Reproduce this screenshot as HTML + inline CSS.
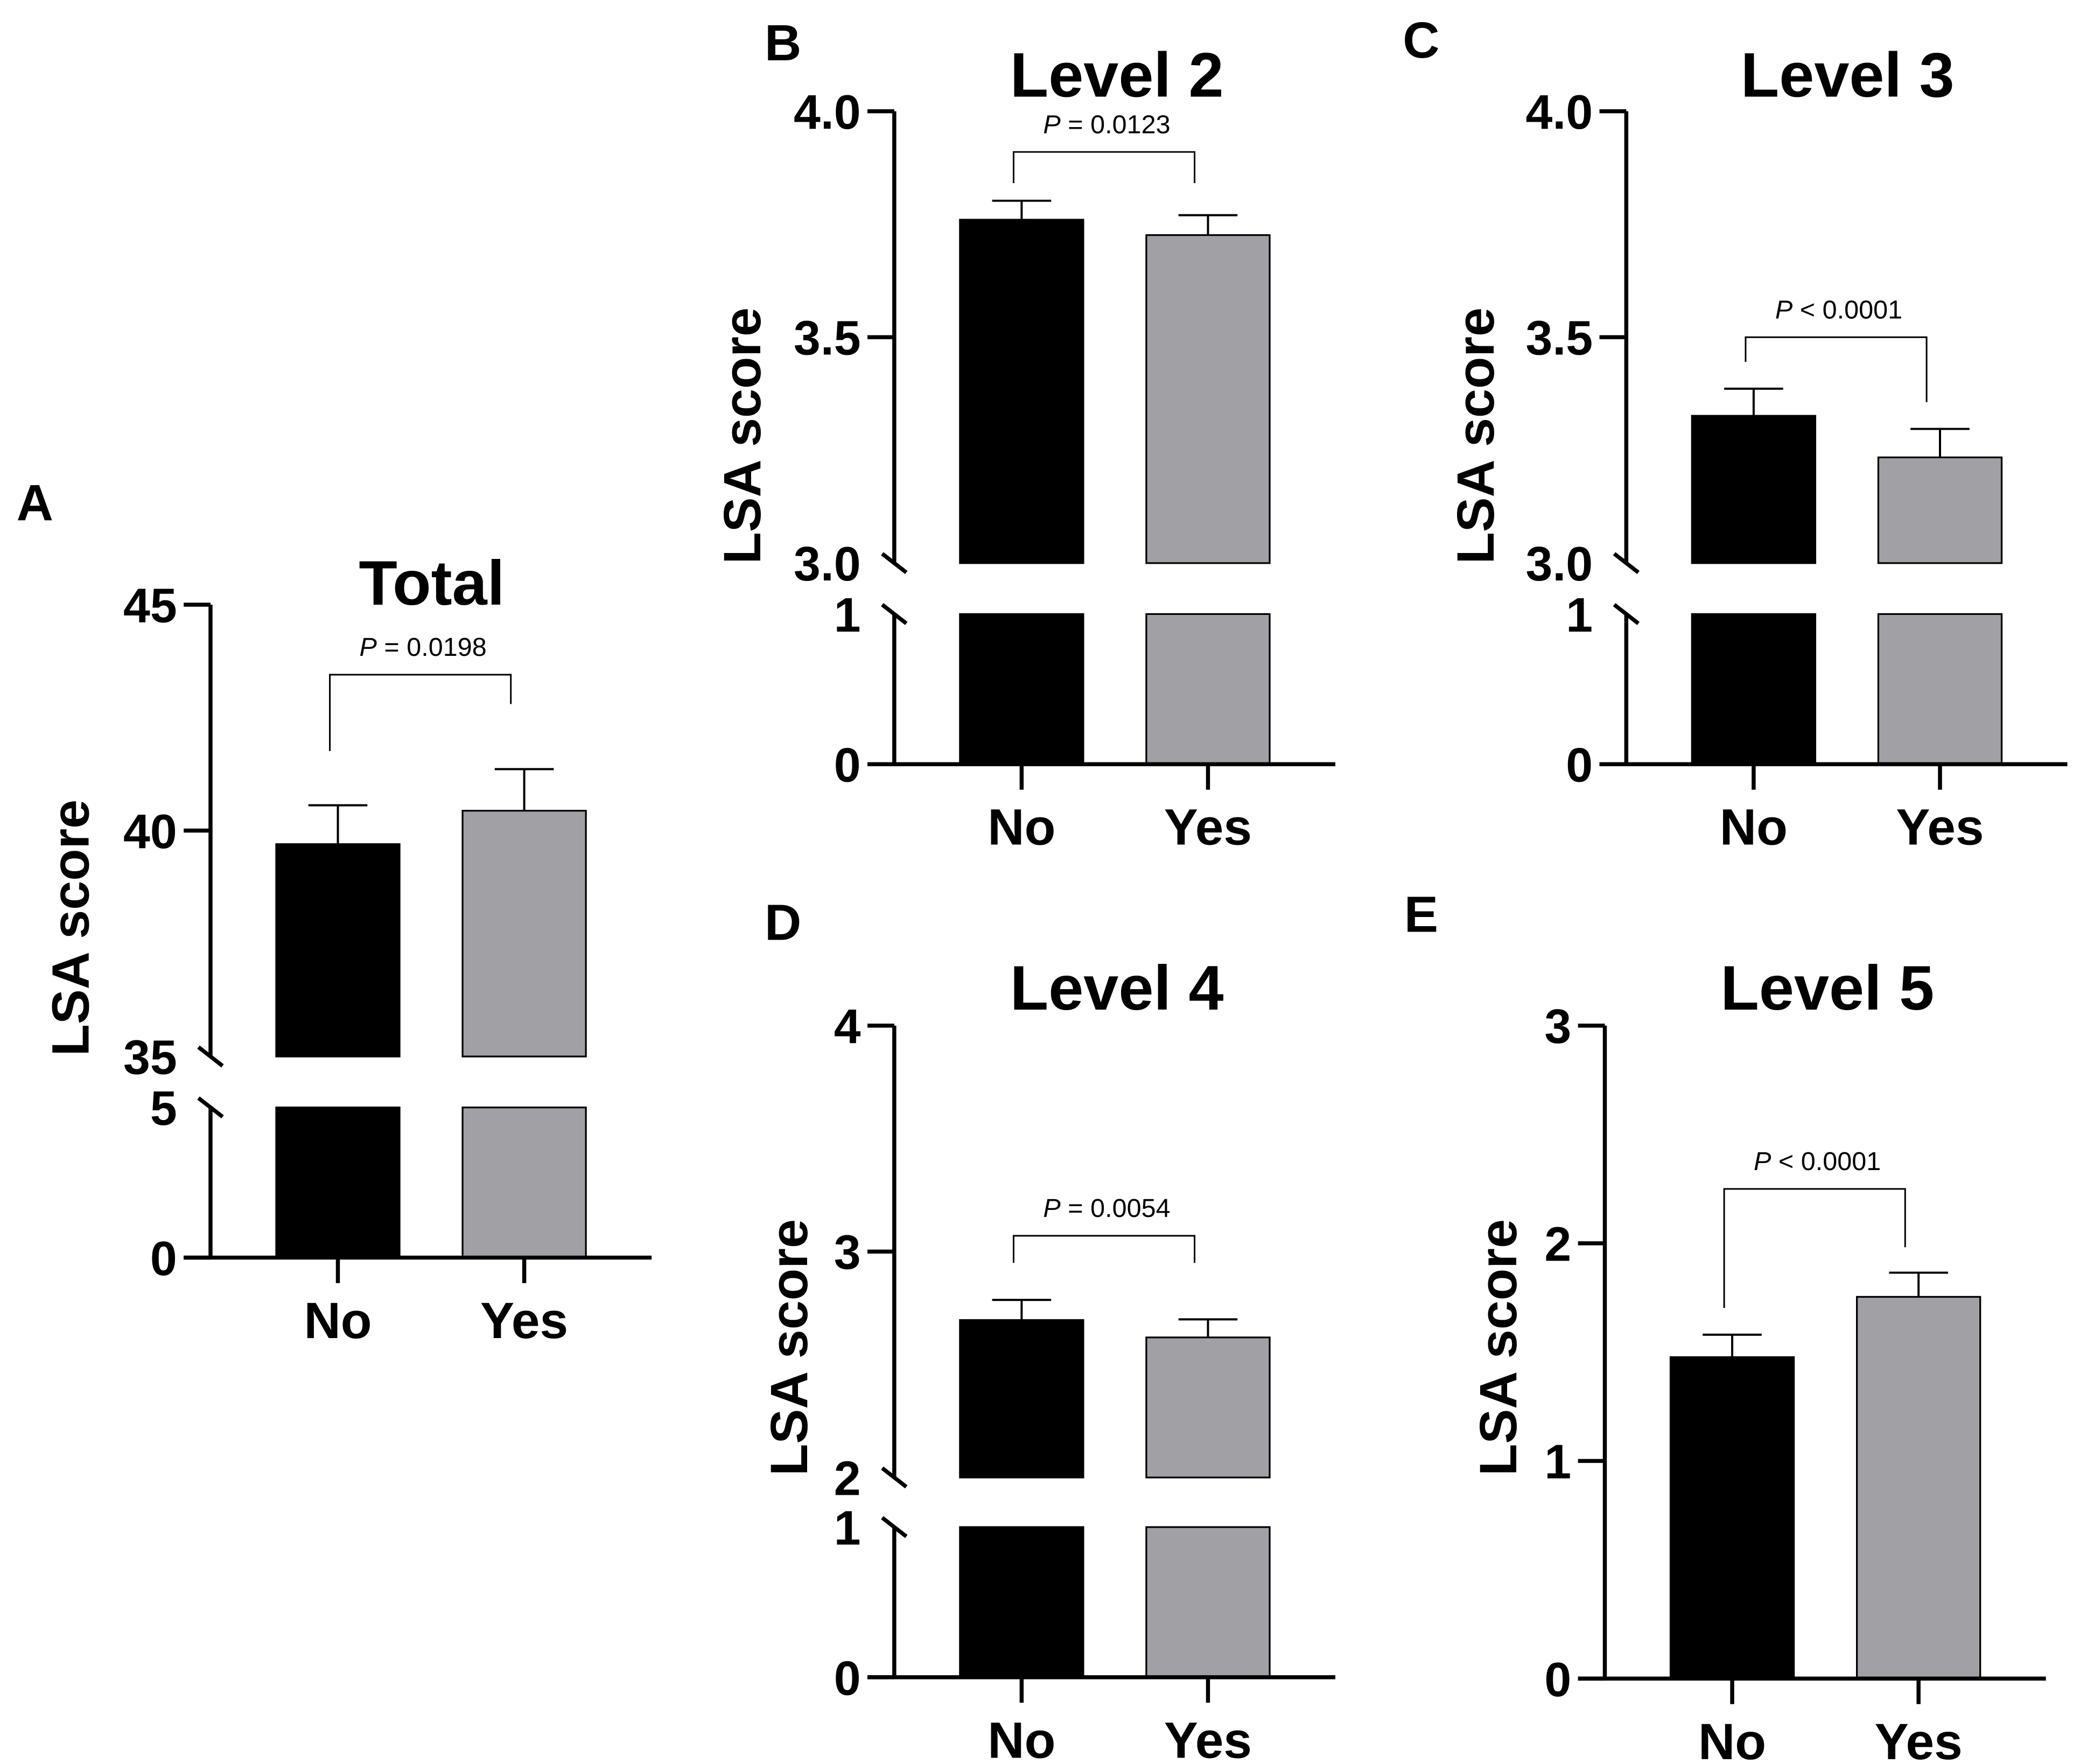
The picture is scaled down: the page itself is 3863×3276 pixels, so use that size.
<!DOCTYPE html>
<html><head><meta charset="utf-8">
<style>
html,body{margin:0;padding:0;background:#fff;}
svg{display:block;}
text{font-family:"Liberation Sans",Arial,sans-serif;}
</style></head>
<body>
<svg id="fig" xmlns="http://www.w3.org/2000/svg" width="3863" height="3276" viewBox="0 0 1551.4 1315.7"></svg>
<script>
const categories = ["No", "Yes"];
const meansA = [39.70, 40.44];
const errsA = [40.56, 41.36];
const ticksA = [0, 5, 35, 40, 45];
const meansB = [3.760, 3.726];
const errsB = [3.802, 3.770];
const ticksB = [0, 1, 3.0, 3.5, 4.0];
const meansC = [3.326, 3.234];
const errsC = [3.386, 3.297];
const ticksC = [0, 1, 3.0, 3.5, 4.0];
const meansD = [2.697, 2.620];
const errsD = [2.786, 2.700];
const ticksD = [0, 1, 2, 3, 4];
const meansE = [1.477, 1.754];
const errsE = [1.580, 1.865];
const ticksE = [0, 1, 2, 3];
const pLabels = ["= 0.0198", "= 0.0123", "< 0.0001", "= 0.0054", "< 0.0001"];
const bracketLevels = [[42.8, 43.45], [3.841, 3.91], [3.35, 3.5], [2.95, 3.07], [2.0, 2.25]];

const NS = "http://www.w3.org/2000/svg";
const svg = document.getElementById("fig");
function mk(tag, attrs, parent) {
  const e = document.createElementNS(NS, tag);
  for (const k in attrs) e.setAttribute(k, attrs[k]);
  (parent || svg).appendChild(e);
  return e;
}

const panels = [
  {id:"a", letter:"A", lx:26, ly:388, title:"Total", tx:322, ty:451, ax:157, y0:938,
   lower:[0,5,938,826], upper:[35,45,788,451], means:meansA, errs:errsA, ticks:ticksA, dec:0, ylab:[52,692], p:0},
  {id:"b", letter:"B", lx:584, ly:45, title:"Level 2", tx:833, ty:72, ax:667, y0:570,
   lower:[0,1,570,458], upper:[3,4,420,83], means:meansB, errs:errsB, ticks:ticksB, dec:1, ylab:[553,325], p:1},
  {id:"c", letter:"C", lx:1060, ly:43, title:"Level 3", tx:1378, ty:72, ax:1213, y0:570,
   lower:[0,1,570,458], upper:[3,4,420,83], means:meansC, errs:errsC, ticks:ticksC, dec:1, ylab:[1100,325], p:2},
  {id:"d", letter:"D", lx:584, ly:701, title:"Level 4", tx:833, ty:753, ax:667, y0:1251,
   lower:[0,1,1251,1139], upper:[2,4,1102,765], means:meansD, errs:errsD, ticks:ticksD, dec:0, ylab:[588,1005], p:3},
  {id:"e", letter:"E", lx:1060, ly:695, title:"Level 5", tx:1363, ty:753, ax:1197, y0:1252,
   lower:null, upper:[0,3,1252,765], means:meansE, errs:errsE, ticks:ticksE, dec:0, ylab:[1117,1005], p:4}
];

panels.forEach(pn => {
  const g = mk("g", {});
  
  
  function y(v) {
    if (pn.lower && v <= pn.lower[1]) {
      const [d0,d1,p0,p1] = pn.lower; return p0 + (v-d0)/(d1-d0)*(p1-p0);
    }
    const [d0,d1,p0,p1] = pn.upper; return p0 + (v-d0)/(d1-d0)*(p1-p0);
  }
  const ax = pn.ax;
  const xs = [ax + 95, ax + 234];
  const lbl = mk("text", {x:pn.lx, y:pn.ly, "text-anchor":"middle", "font-size":38, "font-weight":"bold"}, g);
  lbl.textContent = pn.letter;
  
  
  const t = mk("text", {x:pn.tx, y:pn.ty, "text-anchor":"middle", "font-size":47, "font-weight":"bold"}, g);
  t.textContent = pn.title;
  
  
  const yl = mk("text", {x:0, y:0, "text-anchor":"middle", "font-size":39, "font-weight":"bold",
    transform:`translate(${pn.ylab[0]+14},${pn.ylab[1]}) rotate(-90)`}, g);
  yl.textContent = "LSA score";
  
  

  categories.forEach((c, i) => {
    const fill = i === 0 ? "#000" : "#a1a0a5";
    const bx = xs[i] - 46, bw = 92, v = pn.means[i];
    let segs;
    if (pn.lower) segs = [[pn.lower[0], pn.lower[1]], [pn.upper[0], v]];
    else segs = [[pn.upper[0], v]];
    segs.forEach(s => {
      const r = mk("rect", {x:bx, y:y(s[1]), width:bw, height:y(s[0]) - y(s[1]), fill:fill, stroke:"#000", "stroke-width":1.3}, g);
      
      
    });
    const ev = mk("line", {x1:xs[i], x2:xs[i], y1:y(v), y2:y(pn.errs[i]), stroke:"#000", "stroke-width":1.6}, g);
    
    
    const ec = mk("line", {x1:xs[i]-22, x2:xs[i]+22, y1:y(pn.errs[i]), y2:y(pn.errs[i]), stroke:"#000", "stroke-width":1.6}, g);
    
    
    const xt = mk("line", {x1:xs[i], x2:xs[i], y1:pn.y0, y2:pn.y0+19, stroke:"#000", "stroke-width":3}, g);
    
    
    const xl = mk("text", {x:xs[i], y:pn.y0+60, "text-anchor":"middle", "font-size":38, "font-weight":"bold"}, g);
    xl.textContent = c;
    
    
  });

  const xa = mk("line", {x1:ax-20, x2:ax+329, y1:pn.y0, y2:pn.y0, stroke:"#000", "stroke-width":3}, g);
  
  
  if (pn.lower) {
    const a1 = mk("line", {x1:ax, x2:ax, y1:pn.y0, y2:pn.lower[3], stroke:"#000", "stroke-width":3}, g);
    
    
    const a2 = mk("line", {x1:ax, x2:ax, y1:pn.upper[2], y2:pn.upper[3], stroke:"#000", "stroke-width":3}, g);
    
    
    [pn.lower[3], pn.upper[2]].forEach(by => {
      const s = mk("line", {x1:ax-9, y1:by-7, x2:ax+9, y2:by+7, stroke:"#000", "stroke-width":3}, g);
      
      
    });
  } else {
    const a = mk("line", {x1:ax, x2:ax, y1:pn.y0, y2:pn.upper[3], stroke:"#000", "stroke-width":3}, g);
    
    
  }
  pn.ticks.forEach((tv, k) => {
    const ty = y(tv);
    const isBreak = pn.lower && (tv === pn.lower[1] || tv === pn.upper[0]);
    if (!isBreak) {
      const tk = mk("line", {x1:ax-20, x2:ax, y1:ty, y2:ty, stroke:"#000", "stroke-width":3}, g);
      
      
    }
    const tl = mk("text", {x:ax-25, y:ty+13, "text-anchor":"end", "font-size":36, "font-weight":"bold"}, g);
    const useDec = pn.lower ? tv >= pn.upper[0] : true;
    tl.textContent = (k === 0) ? "0" : (useDec ? tv.toFixed(pn.dec) : String(tv));
    
    
  });

  const [endV, topV] = bracketLevels[pn.p];
  const bt = y(topV);
  const leftEnd = pn.p === 0 ? y(endV) + 35 : y(endV);
  const rightEnd = pn.p === 4 ? y(pn.errs[1]) - 19 : (pn.p === 2 ? y(pn.errs[1]) - 20 : y(endV));
  const br = mk("polyline", {points:`${xs[0]-6},${pn.p===2||pn.p===4 ? y(pn.errs[0])-20 : leftEnd} ${xs[0]-6},${bt} ${xs[1]-10},${bt} ${xs[1]-10},${rightEnd}`,
    fill:"none", stroke:"#000", "stroke-width":1.2}, g);
  
  
  const pt = mk("text", {x:(xs[0]+xs[1])/2 - 6, y:bt - 14, "text-anchor":"middle", "font-size":19.5}, g);
  
  
  const ps = mk("tspan", {"font-style":"italic"}, pt);
  ps.textContent = "P";
  const ps2 = mk("tspan", {}, pt);
  ps2.textContent = " " + pLabels[pn.p];
});
</script>
</body></html>
